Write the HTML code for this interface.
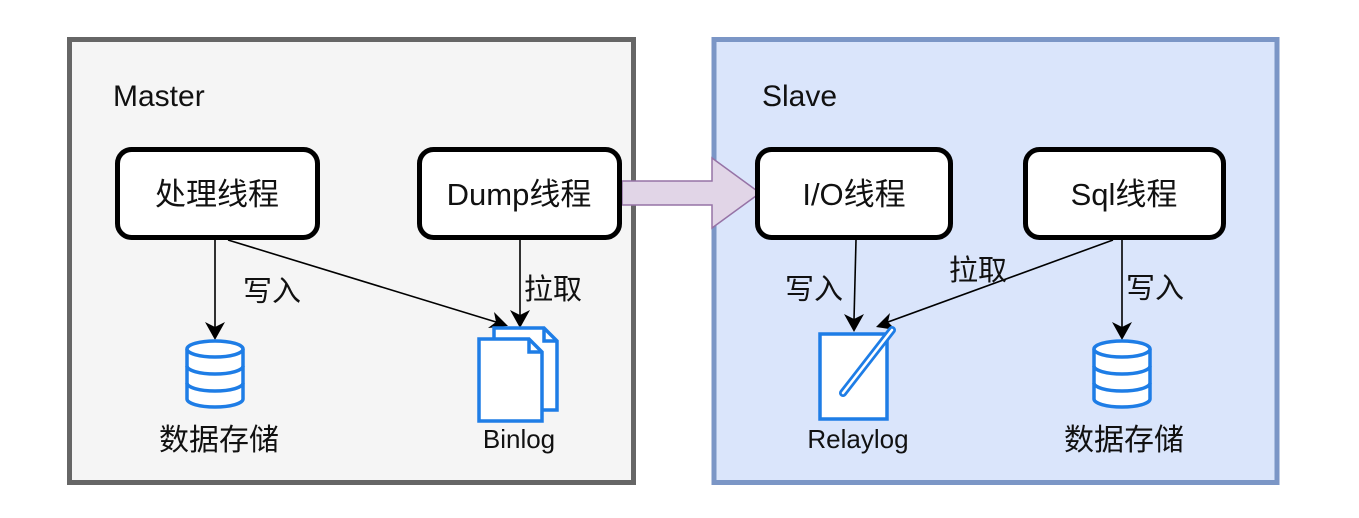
<!DOCTYPE html>
<html><head><meta charset="utf-8"><style>
html,body{margin:0;padding:0;background:#fff;}
svg text{font-family:"Liberation Sans","Noto Sans CJK SC",sans-serif;fill:#111;}
</style></head><body>
<svg width="1359" height="513" viewBox="0 0 1359 513" xmlns="http://www.w3.org/2000/svg">
<rect x="69.5" y="39.5" width="564" height="443" fill="#f5f5f5" stroke="#666" stroke-width="5"/>
<rect x="714" y="39.5" width="563" height="443" fill="#dae5fb" stroke="#7b96c6" stroke-width="5"/>
<text x="113" y="106" font-size="30">Master</text>
<text x="762" y="106" font-size="30">Slave</text>

<polygon points="622,181 712,181 712,158 760,193 712,228 712,205 622,205" fill="#e1d5e7" stroke="#9673a6" stroke-width="1.5"/>

<g fill="#fff" stroke="#000" stroke-width="5">
<rect x="117.5" y="149.5" width="200" height="88" rx="14"/>
<rect x="419.5" y="149.5" width="200" height="88" rx="14"/>
<rect x="757.5" y="149.5" width="193" height="88" rx="14"/>
<rect x="1025.5" y="149.5" width="198" height="88" rx="14"/>
</g>
<g font-size="31" text-anchor="middle">
<text x="217" y="205">处理线程</text>
<text x="519" y="205">Dump线程</text>
<text x="854" y="205">I/O线程</text>
<text x="1124" y="205">Sql线程</text>
</g>

<g stroke="#000" stroke-width="1.6" fill="none">
<line x1="215" y1="240" x2="215" y2="328"/>
<line x1="228" y1="240" x2="496" y2="322"/>
<line x1="520" y1="240" x2="520" y2="316"/>
<line x1="856" y1="240" x2="854" y2="320"/>
<line x1="1113" y1="240" x2="888" y2="322"/>
<line x1="1122" y1="240" x2="1122" y2="328"/>
</g>
<g fill="#000">
<polygon points="215,340 205,322 215,327 225,322"/>
<polygon points="508,326 488,328 496,322 494,312"/>
<polygon points="520,328 510,310 520,315 530,310"/>
<polygon points="854,332 844,314 854,319 864,314"/>
<polygon points="876,327 890,313 888,322 896,330"/>
<polygon points="1122,340 1112,322 1122,327 1132,322"/>
</g>
<g font-size="29">
<text x="243" y="301">写入</text>
<text x="524" y="299">拉取</text>
<text x="785" y="299">写入</text>
<text x="949" y="280">拉取</text>
<text x="1126" y="298">写入</text>
</g>

<g fill="#fff" stroke="#1e7de6" stroke-width="3.5">
<g transform="translate(215,0)">
<path d="M-28,349 v50 a28,8 0 0 0 56,0 v-50"/>
<ellipse cx="0" cy="349" rx="28" ry="8"/>
<path d="M-28,366 a28,8 0 0 0 56,0 M-28,383 a28,8 0 0 0 56,0" fill="none"/>
</g>
<g transform="translate(1122,0)">
<path d="M-28,349 v50 a28,8 0 0 0 56,0 v-50"/>
<ellipse cx="0" cy="349" rx="28" ry="8"/>
<path d="M-28,366 a28,8 0 0 0 56,0 M-28,383 a28,8 0 0 0 56,0" fill="none"/>
</g>
<path d="M494,328 h50 l13,13 v69 h-63 z"/>
<path d="M544,328 v13 h13" fill="none"/>
<path d="M479,339 h50 l13,13 v69 h-63 z"/>
<path d="M529,339 v13 h13" fill="none"/>
<rect x="820" y="334" width="67" height="85"/>
</g>
<line x1="843" y1="393" x2="892" y2="330" stroke="#1e7de6" stroke-width="8" stroke-linecap="round"/>
<line x1="843" y1="393" x2="892" y2="330" stroke="#fff" stroke-width="2.5" stroke-linecap="round"/>

<g text-anchor="middle">
<text x="219" y="450" font-size="30">数据存储</text>
<text x="1124" y="450" font-size="30">数据存储</text>
<text x="519" y="448" font-size="26">Binlog</text>
<text x="858" y="448" font-size="26">Relaylog</text>
</g>
</svg>
</body></html>
